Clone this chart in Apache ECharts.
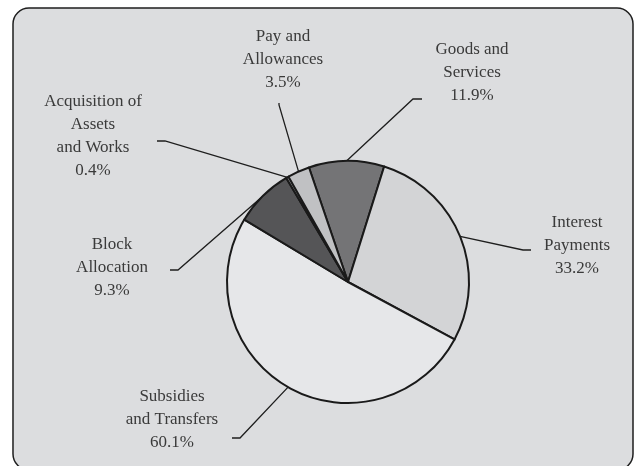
<!DOCTYPE html>
<html>
<head>
<meta charset="utf-8">
<style>
  html, body { margin: 0; padding: 0; background: #ffffff; }
  #chart { width: 640px; height: 466px; }
</style>
<script src="https://cdn.jsdelivr.net/npm/echarts@6/dist/echarts.min.js"></script>
</head>
<body>
<div id="chart"></div>
<script>
// Expenditure shares (as printed on each label)
const categories = [
  'Goods and\nServices',
  'Interest\nPayments',
  'Subsidies\nand Transfers',
  'Block\nAllocation',
  'Acquisition of\nAssets\nand Works',
  'Pay and\nAllowances'
];
const shares = [11.9, 33.2, 60.1, 9.3, 0.4, 3.5];
const sliceColors = ['#747476', '#d3d4d6', '#e6e7e9', '#555557', '#9a9b9d', '#c0c1c3'];

// Label anchors (text block centre) and leader-line bends, in pixels
const labelAnchor = [
  [472, 73], [577, 246], [172, 420], [112, 268], [93, 136], [283, 60]
];
const leaderBend = [
  [[413, 99], [422, 99]],
  [[523, 250], [531, 250]],
  [[240, 438], [232, 438]],
  [[178, 270], [170, 270]],
  [[165, 141], [157, 141]],
  [[279, 105], [279, 103]]
];

const chart = echarts.init(document.getElementById('chart'), null, { renderer: 'canvas' });

chart.setOption({
  animation: false,
  backgroundColor: '#ffffff',
  graphic: [{
    type: 'rect',
    z: -10,
    shape: { x: 13, y: 8, width: 620, height: 462, r: 16 },
    style: { fill: '#dcdddf', stroke: '#1e1e1e', lineWidth: 1.5 }
  }],
  series: [{
    type: 'pie',
    center: [348, 282],
    radius: 121,
    startAngle: 108.8,
    clockwise: true,
    avoidLabelOverlap: false,
    minShowLabelAngle: 0,
    itemStyle: { borderColor: '#1a1a1a', borderWidth: 2 },
    emphasis: { disabled: true },
    label: {
      show: true,
      position: 'outside',
      formatter: '{b}\n{c}%',
      fontFamily: 'Liberation Serif',
      fontSize: 17,
      lineHeight: 23,
      color: '#3a3a3a',
      align: 'center'
    },
    labelLine: {
      show: true,
      length: 20,
      length2: 10,
      lineStyle: { color: '#1e1e1e', width: 1.3 }
    },
    labelLayout: function (params) {
      const i = params.dataIndex;
      const start = params.labelLinePoints ? params.labelLinePoints[0] : leaderBend[i][0];
      return {
        x: labelAnchor[i][0],
        y: labelAnchor[i][1],
        align: 'center',
        verticalAlign: 'middle',
        labelLinePoints: [start, leaderBend[i][0], leaderBend[i][1]]
      };
    },
    data: categories.map((name, i) => ({
      name: name,
      value: shares[i],
      itemStyle: { color: sliceColors[i] }
    }))
  }]
});
</script>
</body>
</html>
